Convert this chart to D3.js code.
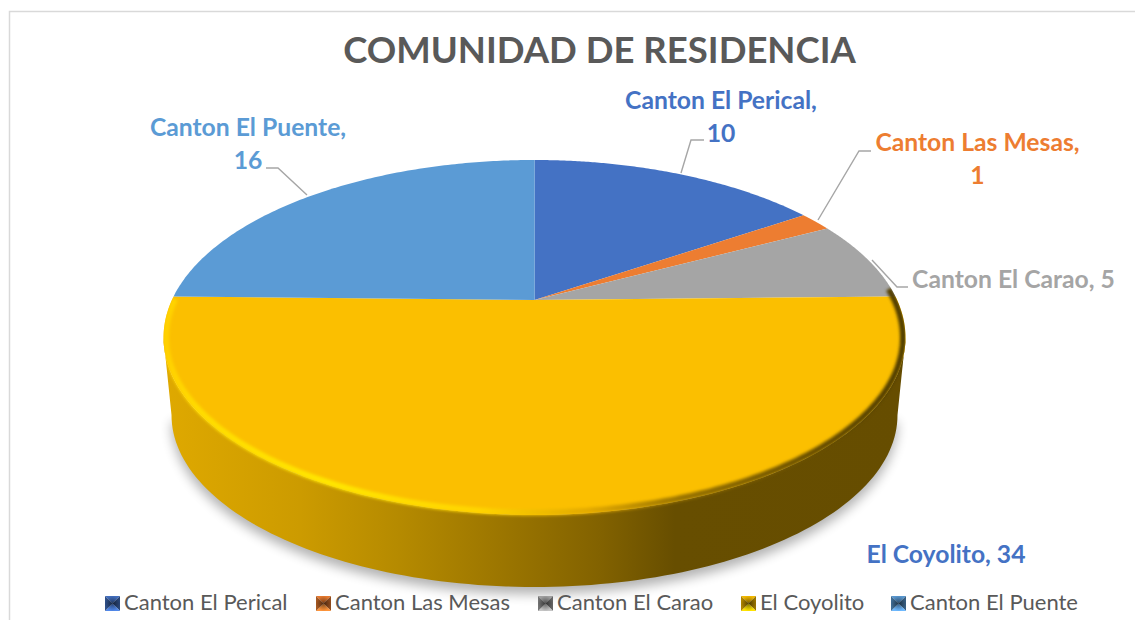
<!DOCTYPE html>
<html><head><meta charset="utf-8">
<script src="https://cdnjs.cloudflare.com/ajax/libs/d3/7.8.5/d3.min.js"></script>
<style>html,body{margin:0;padding:0;background:#fff}svg{display:block}text{font-family:Lato,"Open Sans",sans-serif}</style>
</head><body><svg id="c" width="1135" height="620"></svg>
<script>
const titleText = "COMUNIDAD DE RESIDENCIA";
const categories = ["Canton El Perical","Canton Las Mesas","Canton El Carao","El Coyolito","Canton El Puente"];
const values = [10,1,5,34,16];
const colors = ["#4472c4","#ed7d31","#a5a5a5","#fbbf00","#5b9bd5"];
const labelColors = ["#4472c4","#ed7d31","#a5a5a5","#4472c4","#5b9bd5"];
const labelLines = [["Canton El Perical,","10"],["Canton Las Mesas,","1"],["Canton El Carao, 5"],["El Coyolito, 34"],["Canton El Puente,","16"]];
// layout only
const labelAt = [[721,109],[977.5,151],[1013.5,288],[946,563],[248,136]];
const leaders = [[[681,173],[691,140],[704,140]],[[818,220],[859,151],[871,151]],[[872,260],[897,287],[908,287]],null,[[307,195],[278,168],[266,168]]];
const legendX = [105,316,538,741,891];

const svg = d3.select("#c"), defs = svg.append("defs");
// top face outline and the point where the slices meet (tilted, perspective view)
const cx=534.5, cy=337.5, rx=371, ry=177.5, apexY=300, k=0.52;
const proj = t => {
  const c=Math.cos(t), dx=Math.sin(t), dy=-k*Math.sign(c)*Math.pow(Math.abs(c),1.3);
  // ray from the meeting point to the ellipse
  const A=dx*dx/(rx*rx)+dy*dy/(ry*ry), oy=apexY-cy, B=2*dy*oy/(ry*ry), C=oy*oy/(ry*ry)-1;
  const s=(-B+Math.sqrt(B*B-4*A*C))/(2*A);
  return [cx+s*dx, apexY+s*dy];
};
const sample = (t0,t1,n=120) => d3.range(n+1).map(i=>proj(t0+(t1-t0)*i/n));
const line = d3.line();

svg.append("path").attr("d","M9.5,620V11.5H1135").attr("fill","none").attr("stroke","#d9d9d9").attr("stroke-width",1.5);

const blur=(id,s)=>defs.append("filter").attr("id",id).attr("x","-20%").attr("y","-20%").attr("width","140%").attr("height","140%").append("feGaussianBlur").attr("stdDeviation",s);
blur("shadowBlur",6); blur("rimBlur",1.6);
const grad=(id,stops)=>{const g=defs.append("linearGradient").attr("id",id).attr("gradientUnits","userSpaceOnUse").attr("x1",163).attr("x2",906).attr("y1",0).attr("y2",0);
  stops.forEach(s=>g.append("stop").attr("offset",(s[0]-163)/743).attr("stop-color",s[1]));};
grad("wall",[[163,"#dfa900"],[300,"#cc9b00"],[400,"#b58a00"],[500,"#9c7600"],[600,"#826200"],[675,"#674e00"],[906,"#664d00"]]);
grad("rim",[[163,"#ffd000"],[200,"#ffdc00"],[330,"#ffe600"],[480,"#ffd400"],[590,"#e2a900"],[680,"#9a7400"],[800,"#6e5300"],[906,"#4f3c00"]]);

// wall: lower half of the top outline, then the lower half of the base outline
const Rb=363, ryb=172, cyb=415;
const half=(X,Y,A,B)=>d3.range(121).map(i=>{const t=Math.PI*i/120; return [X+A*Math.cos(t), Y+B*Math.sin(t)];});
const topFront=half(cx,cy,rx,ry), botFront=half(cx,cyb,Rb,ryb);
const wallPts=topFront.concat(botFront.slice().reverse());

svg.append("path").attr("d",line(botFront)+"Z").attr("transform","translate(0,7)").attr("fill","#000").attr("opacity",0.3).attr("filter","url(#shadowBlur)");
svg.append("path").attr("d",line(wallPts)+"Z").attr("fill","url(#wall)");

const pie = d3.pie().sort(null).value(d=>d);
const arcs = pie(values);
svg.append("g").selectAll("path").data(arcs).join("path")
  .attr("d",d=>"M"+cx+","+apexY+"L"+sample(d.startAngle,d.endAngle).map(p=>p.join(",")).join("L")+"Z")
  .attr("fill",(d,i)=>colors[i]);

// rim highlight along the front edge, slightly inset
const rimClip=defs.append("clipPath").attr("id","rimClip");
rimClip.append("path").attr("d",line(wallPts)+"Z");
rimClip.append("path").attr("d",line(sample(0,2*Math.PI,240))+"Z");
const rimPts=d3.range(241).map(i=>{const t=-0.28+(Math.PI+0.5)*i/240; return [cx+(rx-2.5)*Math.cos(t), cy+(ry-2.5)*Math.sin(t)];});
svg.append("g").attr("clip-path","url(#rimClip)").append("path")
  .attr("d",line(rimPts))
  .attr("fill","none").attr("stroke","url(#rim)").attr("stroke-width",6).attr("filter","url(#rimBlur)");

svg.append("text").text(titleText).attr("x",599.5).attr("y",62.5).attr("text-anchor","middle")
  .attr("font-size",36.5).attr("font-weight",700).attr("fill","#595959");

svg.append("g").selectAll("path").data(leaders.filter(Boolean)).join("path")
  .attr("d",d=>line(d)).attr("fill","none").attr("stroke","#a6a6a6").attr("stroke-width",1.4);

const lg=svg.append("g").selectAll("text").data(labelLines).join("text")
  .attr("font-size",24.7).attr("font-weight",700).attr("text-anchor","middle").attr("fill",(d,i)=>labelColors[i]);
lg.each(function(d,i){d3.select(this).selectAll("tspan").data(d).join("tspan")
  .attr("x",labelAt[i][0]).attr("y",(t,j)=>labelAt[i][1]+j*32.5).text(t=>t);});

const sw=defs.append("radialGradient").attr("id","swC");
sw.append("stop").attr("offset",0).attr("stop-color","#000").attr("stop-opacity",0.5);
sw.append("stop").attr("offset",1).attr("stop-color","#000").attr("stop-opacity",0);
const S=15, leg=svg.append("g").selectAll("g").data(categories).join("g").attr("transform",(d,i)=>`translate(${legendX[i]},596)`);
leg.each(function(d,i){
  const g=d3.select(this), c=d3.color(colors[i]), m=[S/2,S/2];
  const faces=[[[0,0],[S,0],m,c.darker(0.1)],[[S,0],[S,S],m,c.darker(1.4)],[[S,S],[0,S],m,c.brighter(0.5)],[[0,S],[0,0],m,c.darker(1.0)]];
  faces.forEach(f=>g.append("path").attr("d",line(f.slice(0,3))+"Z").attr("fill",f[3].formatHex()));
  g.append("rect").attr("width",S).attr("height",S).attr("fill","url(#swC)");
  g.append("text").text(d).attr("x",19).attr("y",14).attr("font-size",22).attr("fill","#595959");
});
</script></body></html>
